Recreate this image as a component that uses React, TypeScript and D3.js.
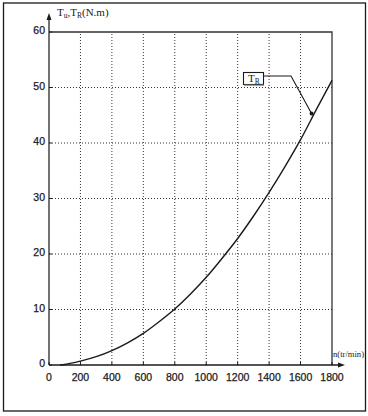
import { useEffect, useRef } from 'react';
import * as d3 from 'd3';

// speed n (tr/min) and torque T_R (N.m)
const speed = [70, 100, 200, 300, 400, 500, 600, 700, 800, 900, 1000, 1100, 1200, 1300, 1400, 1500, 1600, 1700, 1800];
const torque = [0, 0.1, 0.7, 1.5, 2.6, 4.0, 5.7, 7.8, 10.1, 12.8, 15.8, 19.2, 22.8, 26.8, 31.1, 35.7, 40.6, 46.0, 51.3];

const xTicks = [0, 200, 400, 600, 800, 1000, 1200, 1400, 1600, 1800];
const yTicks = [0, 10, 20, 30, 40, 50, 60];

// marked point of the T_R curve
const markN = 1670;
const markT = 45.3;

const W = 368;
const H = 416;

const App = () => {
  const ref = useRef<SVGSVGElement | null>(null);

  useEffect(() => {
    const svg = d3.select(ref.current);
    svg.selectAll('*').remove();

    const x = d3.scaleLinear().domain([0, 1800]).range([49, 332]);
    const y = d3.scaleLinear().domain([0, 60]).range([365, 32]);
    const ink = '#1a1a1a';

    svg.append('rect').attr('width', W).attr('height', H).attr('fill', '#fff');

    // outer frame
    svg
      .append('rect')
      .attr('x', 3.5)
      .attr('y', 3)
      .attr('width', 362)
      .attr('height', 408)
      .attr('fill', 'none')
      .attr('stroke', ink)
      .attr('stroke-width', 1.3);

    // dotted grid
    const grid = svg.append('g').attr('stroke', '#333').attr('stroke-width', 1).attr('stroke-dasharray', '1,2');
    grid
      .selectAll('line.v')
      .data(xTicks.filter(d => d > 0 && d < 1800))
      .enter()
      .append('line')
      .attr('x1', d => x(d))
      .attr('x2', d => x(d))
      .attr('y1', y(0))
      .attr('y2', y(60));
    grid
      .selectAll('line.h')
      .data(yTicks.filter(d => d > 0 && d < 60))
      .enter()
      .append('line')
      .attr('x1', x(0))
      .attr('x2', x(1800))
      .attr('y1', d => y(d))
      .attr('y2', d => y(d));

    // box top and right
    svg
      .append('path')
      .attr('d', `M${x(0)},${y(60)}H${x(1800)}V${y(0)}`)
      .attr('fill', 'none')
      .attr('stroke', '#333')
      .attr('stroke-width', 1.3);

    // axes with arrows
    svg
      .append('line')
      .attr('x1', x(0))
      .attr('x2', x(0))
      .attr('y1', y(0))
      .attr('y2', 16)
      .attr('stroke', '#444')
      .attr('stroke-width', 1.5);
    svg
      .append('path')
      .attr('d', `M${x(0)},13L${x(0) - 2.5},20L${x(0) + 2.5},20Z`)
      .attr('fill', ink);
    svg
      .append('line')
      .attr('x1', x(0))
      .attr('x2', 342)
      .attr('y1', y(0))
      .attr('y2', y(0))
      .attr('stroke', ink)
      .attr('stroke-width', 1.4);
    svg
      .append('path')
      .attr('d', `M345,${y(0)}L338,${y(0) - 2.5}L338,${y(0) + 2.5}Z`)
      .attr('fill', ink);

    // small tick marks
    const ticks = svg.append('g').attr('stroke', ink).attr('stroke-width', 1);
    ticks
      .selectAll('line.xt')
      .data(xTicks)
      .enter()
      .append('line')
      .attr('x1', d => x(d))
      .attr('x2', d => x(d))
      .attr('y1', y(0))
      .attr('y2', y(0) - 3);
    ticks
      .selectAll('line.yt')
      .data(yTicks)
      .enter()
      .append('line')
      .attr('x1', x(0))
      .attr('x2', x(0) + 3)
      .attr('y1', d => y(d))
      .attr('y2', d => y(d));

    // tick labels
    const font = '"Liberation Sans", Arial, sans-serif';
    svg
      .append('g')
      .selectAll('text')
      .data(xTicks)
      .enter()
      .append('text')
      .attr('x', d => x(d))
      .attr('y', 381)
      .attr('text-anchor', 'middle')
      .attr('font-family', font)
      .attr('font-size', 10.5)
      .attr('fill', ink)
      .attr('stroke', ink)
      .attr('stroke-width', 0.25)
      .text(d => d);
    svg
      .append('g')
      .selectAll('text')
      .data(yTicks)
      .enter()
      .append('text')
      .attr('x', 45)
      .attr('y', d => y(d) + 2)
      .attr('text-anchor', 'end')
      .attr('font-family', font)
      .attr('font-size', 10.5)
      .attr('fill', ink)
      .attr('stroke', ink)
      .attr('stroke-width', 0.25)
      .text(d => d);

    // axis titles
    const serif = '"Liberation Serif", "Times New Roman", serif';
    const yt = svg
      .append('text')
      .attr('x', 57)
      .attr('y', 16)
      .attr('font-family', serif)
      .attr('font-size', 11)
      .attr('fill', ink);
    yt.append('tspan').text('T');
    yt.append('tspan').attr('font-size', 7.5).attr('dy', 2).text('u');
    yt.append('tspan').attr('dy', -2).text(',T');
    yt.append('tspan').attr('font-size', 7.5).attr('dy', 2).text('R');
    yt.append('tspan').attr('dy', -2).text('(N.m)');

    svg
      .append('text')
      .attr('x', 333)
      .attr('y', 357)
      .attr('font-family', serif)
      .attr('font-size', 8.6)
      .attr('fill', ink)
      .text('n(tr/min)');

    // T_R curve
    const line = d3
      .line<number>()
      .x((_, i) => x(speed[i]))
      .y(d => y(d))
      .curve(d3.curveMonotoneX);
    svg
      .append('path')
      .datum(torque)
      .attr('d', line)
      .attr('fill', 'none')
      .attr('stroke', ink)
      .attr('stroke-width', 1.4);

    // label box with leader line
    svg
      .append('path')
      .attr('d', `M264,76H291L${x(markN)},${y(markT)}`)
      .attr('fill', 'none')
      .attr('stroke', ink)
      .attr('stroke-width', 1.1);
    svg.append('circle').attr('cx', x(markN)).attr('cy', y(markT)).attr('r', 2).attr('fill', ink);
    svg
      .append('rect')
      .attr('x', 243.5)
      .attr('y', 72.5)
      .attr('width', 20)
      .attr('height', 12)
      .attr('fill', '#fff')
      .attr('stroke', ink)
      .attr('stroke-width', 1.1);
    svg
      .append('line')
      .attr('x1', 244)
      .attr('x2', 264)
      .attr('y1', 85)
      .attr('y2', 85)
      .attr('stroke', '#666')
      .attr('stroke-width', 1.2);
    const lt = svg
      .append('text')
      .attr('x', 248)
      .attr('y', 82)
      .attr('font-family', serif)
      .attr('font-size', 11)
      .attr('fill', ink);
    lt.append('tspan').text('T');
    lt.append('tspan').attr('font-size', 7.5).attr('dy', 1.5).text('R');
  }, []);

  return (
    <svg
      ref={ref}
      width={W}
      height={H}
      style={{ position: 'absolute', left: 0, top: 0, display: 'block' }}
    ></svg>
  );
};

export default App;
